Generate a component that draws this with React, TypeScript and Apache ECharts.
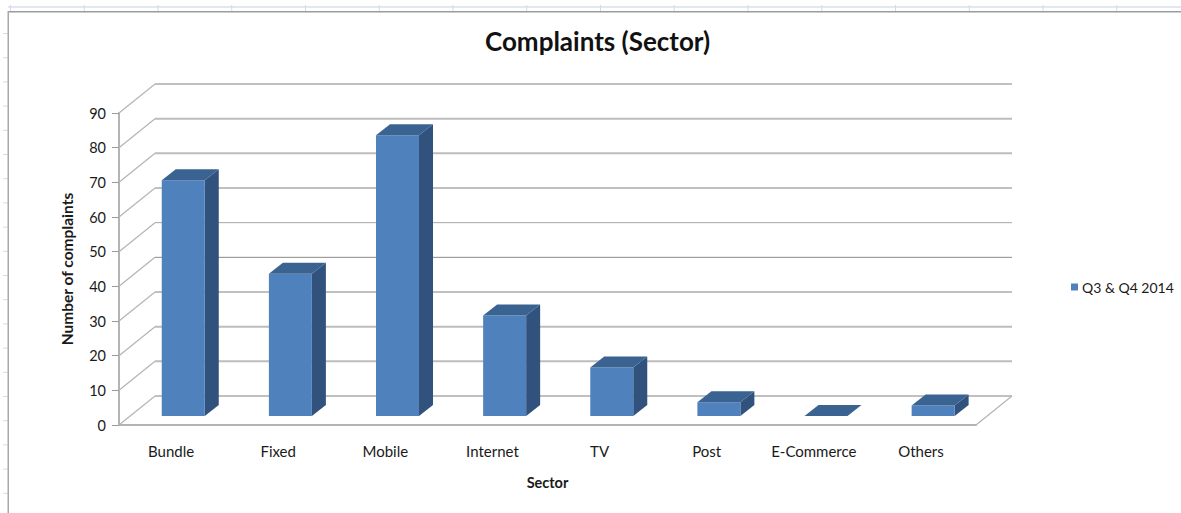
import React, { useEffect, useRef } from "react";
import * as echarts from "echarts";

const categories = ["Bundle", "Fixed", "Mobile", "Internet", "TV", "Post", "E-Commerce", "Others"];
const complaints = [68, 41, 81, 29, 14, 4, 0, 3];
const valueTicks = [0, 10, 20, 30, 40, 50, 60, 70, 80, 90];
const seriesName = "Q3 & Q4 2014";

const FONT = "Lato, 'Open Sans', sans-serif";
const WALL = { dx: 36, dy: -29 };
const BAR = { dx: 10.7, dy: -9, width: 43, depthX: 14, depthY: -11 };
const GRID_COLOR = "#b4b4b4";
const TEXT = "#1a1a1a";

// Rasterised gridlines differ in weight from one level to the next.
function wallLineStyle(value: number) {
  if (value === 40) return { stroke: "#8a8a8a", lineWidth: 1 };
  if (value === 50) return { stroke: "#a6a6a6", lineWidth: 1 };
  if (value === 0 || value === 30 || value === 60 || value === 90) return { stroke: "#ababab", lineWidth: 1.5 };
  return { stroke: "#bdbdbd", lineWidth: 2 };
}

// Back wall gridlines, the slanted side-wall lines and the floor's right edge.
function renderWall(params: any, api: any) {
  const value = api.value(0);
  const [, y] = api.coord([0, value]);
  const cs = params.coordSys;
  const right = cs.x + cs.width;
  const slant = (x1: number, y1: number, x2: number, y2: number) => ({
    type: "line",
    shape: { x1, y1, x2, y2 },
    style: { stroke: GRID_COLOR, lineWidth: 1.2 },
  });
  const children: any[] = [
    slant(cs.x, y, cs.x + WALL.dx, y + WALL.dy),
    {
      type: "line",
      shape: { x1: cs.x + WALL.dx, y1: y + WALL.dy, x2: right + WALL.dx, y2: y + WALL.dy },
      style: wallLineStyle(value),
    },
  ];
  if (value === 0) children.push(slant(right, y, right + WALL.dx, y + WALL.dy));
  return { type: "group", children };
}

// One 3D column: front face, right side and top, raised off the floor by its depth offset.
function renderColumn(_params: any, api: any) {
  const i = api.value(0);
  const [cx, top0] = api.coord([i, api.value(1)]);
  const [, base0] = api.coord([i, 0]);
  const l = cx - BAR.width / 2 + BAR.dx;
  const r = l + BAR.width;
  const top = top0 + BAR.dy;
  const base = base0 + BAR.dy;
  const dx = BAR.depthX;
  const dy = BAR.depthY;
  const poly = (points: number[][], fill: string) => ({
    type: "polygon",
    shape: { points },
    style: { fill, stroke: null },
  });
  const children: any[] = [];
  if (base - top > 0.5) {
    children.push(poly([[r, top], [r + dx, top + dy], [r + dx, base + dy], [r, base]], "#31527c"));
    children.push(poly([[l, top], [r, top], [r, base], [l, base]], "#4f81bd"));
  }
  children.push(poly([[l, top], [r, top], [r + dx, top + dy], [l + dx, top + dy]], "#3b6391"));
  return { type: "group", children };
}

// Worksheet edge visible around the chart area.
function sheetFrame() {
  const out: any[] = [];
  out.push({ type: "rect", shape: { x: 8, y: 6, width: 1173, height: 2 }, style: { fill: "#e2e7f3" } });
  for (let x = 10; x < 1181; x += 73.75) {
    out.push({ type: "rect", shape: { x, y: 5, width: 1, height: 6 }, style: { fill: "#d3daec" } });
  }
  for (let y = 33; y < 513; y += 24.2) {
    out.push({ type: "rect", shape: { x: 3, y, width: 5, height: 1 }, style: { fill: "#d3daec" } });
  }
  out.push({ type: "rect", shape: { x: 8, y: 11, width: 1173, height: 1.5 }, style: { fill: "#9c9c9c" } });
  out.push({ type: "rect", shape: { x: 7.5, y: 11, width: 1.5, height: 502 }, style: { fill: "#a8a8a8" } });
  return out;
}

export default function App() {
  const ref = useRef<HTMLDivElement>(null);
  useEffect(() => {
    const chart = echarts.init(ref.current!, null, { renderer: "svg" });
    chart.setOption({
      animation: false,
      backgroundColor: "#ffffff",
      title: {
        text: "Complaints (Sector)",
        left: 485,
        top: 28,
        padding: 0,
        textStyle: { fontFamily: FONT, fontSize: 26, fontWeight: "bold", color: "#111" },
      },
      legend: {
        left: 1066,
        top: 275,
        itemWidth: 7,
        itemHeight: 7,
        itemGap: 0,
        icon: "rect",
        data: [seriesName],
        textStyle: { fontFamily: FONT, fontSize: 14, color: TEXT, padding: [0, 0, 0, -1] },
      },
      grid: { left: 119, top: 113, right: 205, bottom: 88 },
      xAxis: {
        type: "category",
        data: categories,
        name: "Sector",
        nameLocation: "middle",
        nameGap: 50,
        nameTextStyle: { fontFamily: FONT, fontSize: 14.5, fontWeight: "bold", color: TEXT },
        axisTick: { show: false },
        axisLine: { lineStyle: { color: GRID_COLOR, width: 2 } },
        axisLabel: { fontFamily: FONT, fontSize: 15, color: TEXT, margin: 18, interval: 0, padding: [0, 3, 0, 0] },
        splitLine: { show: false },
      },
      yAxis: {
        type: "value",
        min: 0,
        max: 90,
        interval: 10,
        name: "Number of complaints",
        nameLocation: "middle",
        nameGap: 44,
        nameTextStyle: { fontFamily: FONT, fontSize: 15.5, fontWeight: "bold", color: TEXT },
        axisLine: { show: true, lineStyle: { color: GRID_COLOR, width: 2 } },
        axisTick: { show: true, length: 7, lineStyle: { color: "#9a9a9a", width: 1 } },
        axisLabel: { fontFamily: FONT, fontSize: 14.5, color: TEXT, margin: 13 },
        splitLine: { show: false },
      },
      series: [
        {
          type: "custom",
          name: "wall",
          renderItem: renderWall,
          data: valueTicks.map((t) => [t]),
          encode: { y: 0 },
          clip: false,
          silent: true,
          z: 1,
        },
        {
          type: "custom",
          name: seriesName,
          renderItem: renderColumn,
          data: complaints.map((v, i) => [i, v]),
          encode: { x: 0, y: 1 },
          itemStyle: { color: "#4f81bd" },
          clip: false,
          z: 2,
        },
      ],
      graphic: { elements: sheetFrame() },
    });
    return () => chart.dispose();
  }, []);
  return <div ref={ref} style={{ position: "fixed", left: 0, top: 0, width: 1181, height: 513 }} />;
}
